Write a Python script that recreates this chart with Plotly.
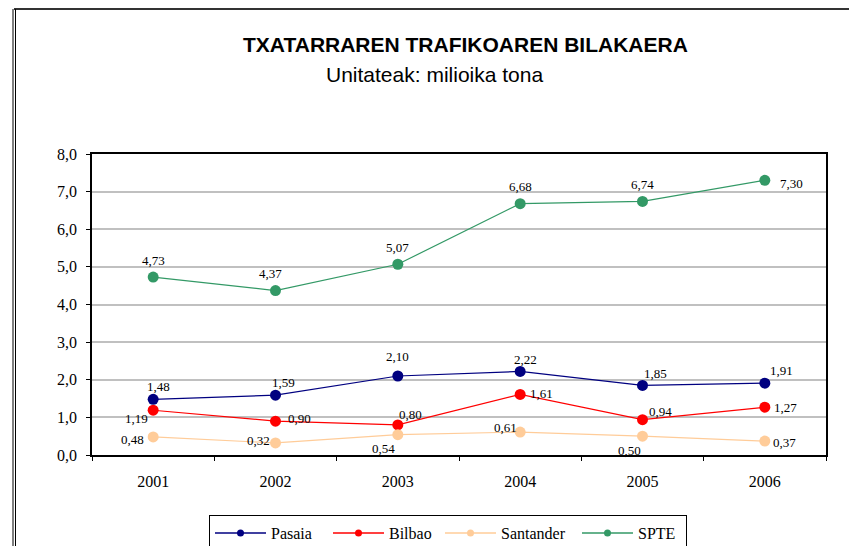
import plotly.graph_objects as go

years = ["2001", "2002", "2003", "2004", "2005", "2006"]
pasaia = [1.48, 1.59, 2.10, 2.22, 1.85, 1.91]
bilbao = [1.19, 0.90, 0.80, 1.61, 0.94, 1.27]
santander = [0.48, 0.32, 0.54, 0.61, 0.50, 0.37]
spte = [4.73, 4.37, 5.07, 6.68, 6.74, 7.30]
y_ticks = [0, 1, 2, 3, 4, 5, 6, 7, 8]
y_tick_text = ["0,0", "1,0", "2,0", "3,0", "4,0", "5,0", "6,0", "7,0", "8,0"]

series = [
    ("Pasaia", pasaia, "#000080"),
    ("Bilbao", bilbao, "#FF0000"),
    ("Santander", santander, "#FFCC99"),
    ("SPTE", spte, "#339966"),
]
legend_text_widths = {"Pasaia": 52, "Bilbao": 46, "Santander": 71, "SPTE": 43}

# label offsets in pixels (dx, dy with dy positive = down)
label_offsets = {
    "Pasaia": [(5, -13), (8, -13), (0, -19), (5, -12), (13, -12), (17, -13)],
    "Bilbao": [(-17, 8), (24, -3), (13, -10), (21, -1), (18, -8), (21, 0)],
    "Santander": [(-21, 3), (-17, -2), (-14, 14), (-15, -5), (-13, 14), (20, 1)],
    "SPTE": [(0, -17), (-5, -17), (0, -17), (0, -17), (0, -17), (27, 3)],
}

OFF = 8  # page body margin
FW, FH = 857 - OFF, 546 - OFF
# plot area in reference pixel coordinates
PX0, PX1, PY0, PY1 = 92, 826, 154, 455
L, R = PX0 - OFF, FW - (PX1 - OFF)
T, B = PY0 - OFF, FH - (PY1 - OFF)
pw, ph = PX1 - PX0, PY1 - PY0

def px(x):
    return (x - PX0) / pw

def py(y):
    return (PY1 - y) / ph

SERIF = "Liberation Serif, Times New Roman, serif"
SANS = "Liberation Sans, Arial, sans-serif"

fig = go.Figure()
annotations = []
for name, vals, color in series:
    fig.add_trace(go.Scatter(
        x=years, y=vals, name=name, mode="lines+markers",
        line=dict(color=color, width=1.2),
        marker=dict(color=color, size=11),
        showlegend=False,
    ))
    for i, v in enumerate(vals):
        dx, dy = label_offsets[name][i]
        annotations.append(dict(
            x=i, y=v, xref="x", yref="y",
            text=f"{v:.2f}".replace(".", ","), showarrow=False,
            xshift=dx, yshift=-dy, xanchor="center", yanchor="middle",
            font=dict(family=SERIF, size=13, color="#000"),
        ))

# legend entries
for name, vals, color in series:
    fig.add_trace(go.Scatter(
        x=[None], y=[None], name=name, mode="lines+markers",
        line=dict(color=color, width=1.5),
        marker=dict(color=color, size=7),
        showlegend=True, legendwidth=legend_text_widths[name],
    ))

annotations += [
    dict(x=px(465), y=py(44), xref="paper", yref="paper",
         xanchor="center", yanchor="middle",
         text="<b>TXATARRAREN TRAFIKOAREN BILAKAERA</b>", showarrow=False,
         font=dict(family=SANS, size=21, color="#000")),
    dict(x=px(434), y=py(74), xref="paper", yref="paper",
         xanchor="center", yanchor="middle",
         text="Unitateak: milioika tona", showarrow=False,
         font=dict(family=SANS, size=21, color="#000")),
]

shapes = [
    dict(type="line", xref="paper", yref="paper", x0=px(14), x1=px(870),
         y0=py(9), y1=py(9), line=dict(color="#333", width=2)),
    dict(type="line", xref="paper", yref="paper", x0=px(13), x1=px(13),
         y0=py(9), y1=py(560), line=dict(color="#000", width=1)),
    dict(type="line", xref="paper", yref="paper", x0=px(15.5), x1=px(15.5),
         y0=py(9), y1=py(560), line=dict(color="#000", width=1)),
]

fig.update_layout(
    width=FW, height=FH,
    margin=dict(l=L, r=R, t=T, b=B, autoexpand=False),
    paper_bgcolor="white", plot_bgcolor="white",
    showlegend=True,
    legend=dict(
        orientation="h", x=px(209), y=py(515), xanchor="left", yanchor="top",
        bordercolor="#000", borderwidth=1,
        font=dict(family=SERIF, size=16, color="#000"),
        itemwidth=51,
    ),
    annotations=annotations,
    shapes=shapes,
)
fig.update_xaxes(
    type="category", range=[-0.5, 5.5], tickson="boundaries",
    ticks="outside", ticklen=4, tickcolor="#000",
    showline=True, linecolor="#000", linewidth=1.5, mirror=True,
    showgrid=False, ticklabelstandoff=11,
    tickfont=dict(family=SERIF, size=16, color="#000"),
)
fig.update_yaxes(
    range=[0, 8], tickvals=y_ticks, ticktext=y_tick_text,
    ticks="outside", ticklen=4, tickcolor="#000",
    showline=True, linecolor="#000", linewidth=1.5, mirror=True,
    showgrid=True, gridcolor="#c0c0c0", gridwidth=1.5,
    zeroline=False, ticklabelstandoff=6,
    tickfont=dict(family=SERIF, size=16, color="#000"),
)

fig.write_html("out.html")
